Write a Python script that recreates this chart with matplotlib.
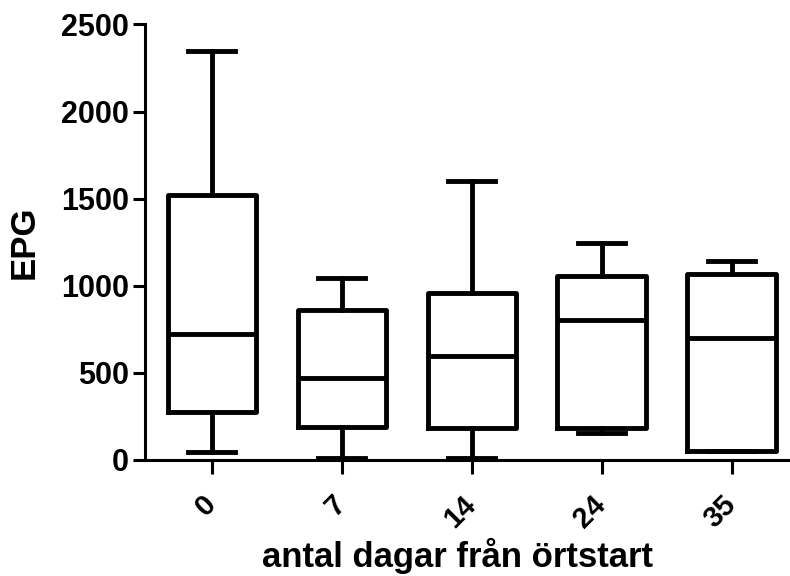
import matplotlib
matplotlib.use("Agg")
import matplotlib.pyplot as plt

plt.rcParams["font.family"] = ["Liberation Sans", "DejaVu Sans"]
plt.rcParams["font.weight"] = "bold"

days = ["0", "7", "14", "24", "35"]
whisk_lo = [48, 10, 13, 153, 50]
q1 = [274, 191, 186, 185, 50]
median = [721, 473, 599, 804, 699]
q3 = [1521, 861, 957, 1056, 1068]
whisk_hi = [2345, 1045, 1600, 1245, 1145]

stats = []
for i, lab in enumerate(days):
    stats.append(dict(label=lab, whislo=whisk_lo[i], q1=q1[i], med=median[i],
                      q3=q3[i], whishi=whisk_hi[i], fliers=[]))

fig = plt.figure(figsize=(7.9, 5.76), dpi=100)
ax = fig.add_axes([0.1835, 0.2014, 0.8165, 0.7561])

lw = 3.5
ax.bxp(stats, positions=range(len(days)), widths=0.68, capwidths=0.36,
       showfliers=False,
       boxprops=dict(color="black", linewidth=lw),
       medianprops=dict(color="black", linewidth=lw),
       whiskerprops=dict(color="black", linewidth=lw),
       capprops=dict(color="black", linewidth=lw))

ax.set_xlim(-0.515, 4.45)
ax.set_ylim(0, 2500)
ax.set_yticks([0, 500, 1000, 1500, 2000, 2500])
ax.spines["top"].set_visible(False)
ax.spines["right"].set_visible(False)
ax.spines["left"].set_linewidth(2.2)
ax.spines["bottom"].set_linewidth(2.2)
ax.tick_params(axis="y", length=8.5, width=2.2, labelsize=22, pad=3)
ax.tick_params(axis="x", length=10, width=2.2, labelsize=21, pad=19)
ax.set_xticks(range(len(days)))
ax.set_xticklabels(days, rotation=45, ha="right", va="center", rotation_mode="anchor")
for t in ax.get_xticklabels():
    t.set_fontweight("bold")
for t in ax.get_yticklabels():
    t.set_fontweight("bold")

ax.set_ylabel("EPG", fontsize=25, fontweight="bold")
ax.yaxis.set_label_coords(-0.161, 0.5)
ax.set_xlabel("antal dagar från örtstart", fontsize=25, fontweight="bold")
ax.xaxis.label.set_va("baseline")
ax.xaxis.set_label_coords(0.484, -0.2457)

fig.savefig("out.png", dpi=100)
